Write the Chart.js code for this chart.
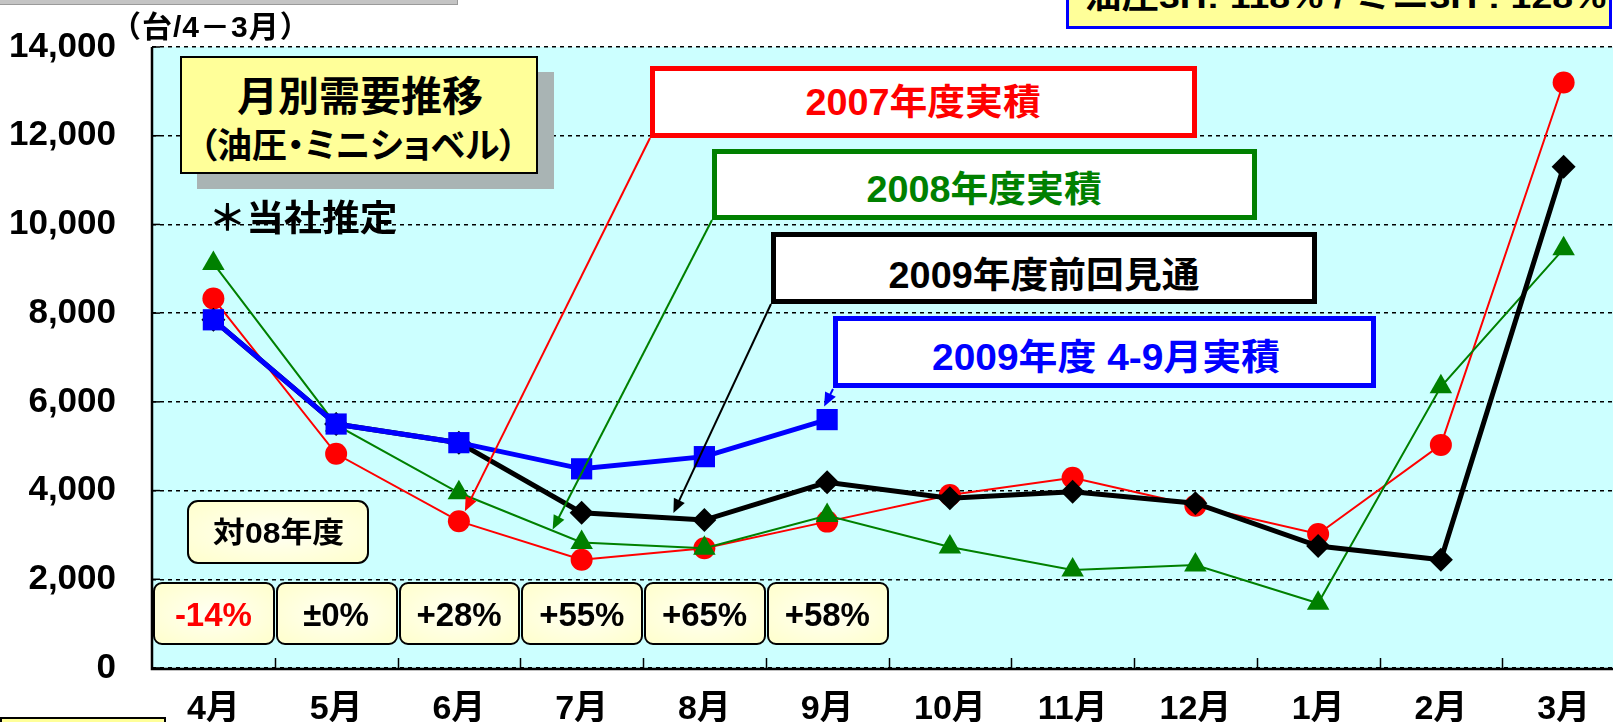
<!DOCTYPE html>
<html>
<head>
<meta charset="utf-8">
<script src="https://cdn.jsdelivr.net/npm/chart.js@4/dist/chart.umd.min.js"></script>
<style>
  html,body{margin:0;padding:0;background:#fff;overflow:hidden;width:1613px;height:722px;}
  #wrap{position:relative;width:1613px;height:722px;overflow:hidden;}
  canvas{position:absolute;left:0;top:0;}
  .ov{position:absolute;box-sizing:border-box;}
  .txt{position:absolute;white-space:nowrap;font-family:'Liberation Sans','Noto Sans CJK JP',sans-serif;font-weight:bold;transform-origin:center center;line-height:1;}
</style>
</head>
<body>
<div id="wrap">
  <canvas id="c" width="1640" height="722"></canvas>
</div>
<script>
// ---- data ----
const months = ['4月','5月','6月','7月','8月','9月','10月','11月','12月','1月','2月','3月'];
const actual2007 = [8330, 4830, 3310, 2440, 2700, 3300, 3900, 4290, 3660, 3020, 5030, 13200];
const actual2008 = [9120, 5480, 3950, 2830, 2700, 3440, 2730, 2210, 2320, 1460, 6340, 9450];
const forecast2009 = [7850, 5500, 5080, 3500, 3335, 4185, 3825, 3975, 3715, 2750, 2440, 11300];
const actual2009 = [7850, 5500, 5080, 4490, 4765, 5600, null, null, null, null, null, null];
const yTicks = [0, 2000, 4000, 6000, 8000, 10000, 12000, 14000];
const vs08Labels = ['-14%', '±0%', '+28%', '+55%', '+65%', '+58%'];
const seriesNames = ['2009年度 4-9月実積', '2009年度前回見通', '2008年度実積', '2007年度実積'];

const FONT = "'Liberation Sans','Noto Sans CJK JP',sans-serif";

function arrow(ctx, x1, y1, x2, y2, color, w) {
  const ang = Math.atan2(y2 - y1, x2 - x1);
  const L = 14, W = 6;
  ctx.save();
  ctx.strokeStyle = color; ctx.fillStyle = color; ctx.lineWidth = w;
  ctx.beginPath(); ctx.moveTo(x1, y1);
  ctx.lineTo(x2 - Math.cos(ang) * L * 0.8, y2 - Math.sin(ang) * L * 0.8); ctx.stroke();
  ctx.beginPath();
  ctx.moveTo(x2, y2);
  ctx.lineTo(x2 - Math.cos(ang) * L - Math.sin(ang) * W, y2 - Math.sin(ang) * L + Math.cos(ang) * W);
  ctx.lineTo(x2 - Math.cos(ang) * L + Math.sin(ang) * W, y2 - Math.sin(ang) * L - Math.cos(ang) * W);
  ctx.closePath(); ctx.fill();
  ctx.restore();
}

const decor = {
  id: 'decor',
  beforeDraw(chart) {
    const {ctx, chartArea: a} = chart;
    ctx.save();
    ctx.fillStyle = '#CCFFFF';
    ctx.fillRect(a.left, a.top, a.right - a.left, a.bottom - a.top);
    ctx.restore();
  },
  beforeDatasetsDraw(chart) {
    const {ctx, chartArea: a, scales: {x, y}} = chart;
    ctx.save();
    ctx.strokeStyle = '#000';
    ctx.lineWidth = 2.5;
    ctx.beginPath();
    ctx.moveTo(a.left, a.top); ctx.lineTo(a.left, a.bottom + 1);
    ctx.lineTo(a.right, a.bottom + 1);
    ctx.stroke();
    ctx.lineWidth = 1.5;
    for (let i = 1; i < months.length; i++) {
      const px = Math.round((x.getPixelForValue(i - 1) + x.getPixelForValue(i)) / 2) + 0.5;
      ctx.beginPath(); ctx.moveTo(px, a.bottom); ctx.lineTo(px, a.bottom - 10); ctx.stroke();
    }
    yTicks.forEach(v => {
      const py = y.getPixelForValue(v);
      ctx.beginPath(); ctx.moveTo(a.left, py); ctx.lineTo(a.left + 8, py); ctx.stroke();
    });
    ctx.restore();
  },
  afterDatasetsDraw(chart) {
    const {ctx, scales: {x, y}} = chart;
    arrow(ctx, 650, 138, x.getPixelForValue(2) + 6, y.getPixelForValue(actual2007[2]) - 10, '#FF0000', 2);
    arrow(ctx, 712, 220, x.getPixelForValue(3) - 29, y.getPixelForValue(actual2008[3]) - 13, '#008000', 2);
    arrow(ctx, 771, 304, x.getPixelForValue(4) - 31, y.getPixelForValue(forecast2009[4]) - 7, '#000000', 2);
    arrow(ctx, 833, 389, x.getPixelForValue(5) - 3, y.getPixelForValue(actual2009[5]) - 13, '#0000FF', 2);
  }
};

const chart = new Chart(document.getElementById('c'), {
  type: 'line',
  data: {
    labels: months,
    datasets: [
      {label: seriesNames[0], data: actual2009, borderColor: '#0000FF', backgroundColor: '#0000FF',
       borderWidth: 5, pointStyle: 'rect', pointRadius: 15, pointBorderWidth: 0, tension: 0},
      {label: seriesNames[1], data: forecast2009, borderColor: '#000000', backgroundColor: '#000000',
       borderWidth: 5, pointStyle: 'rectRot', pointRadius: 12, pointBorderWidth: 0, tension: 0},
      {label: seriesNames[2], data: actual2008, borderColor: '#008000', backgroundColor: '#008000',
       borderWidth: 2, pointStyle: 'triangle', pointRadius: 13, pointBorderWidth: 0, tension: 0},
      {label: seriesNames[3], data: actual2007, borderColor: '#FF0000', backgroundColor: '#FF0000',
       borderWidth: 2, pointStyle: 'circle', pointRadius: 11, pointBorderWidth: 0, tension: 0}
    ]
  },
  options: {
    responsive: false,
    animation: false,
    devicePixelRatio: 1,
    layout: {padding: {top: 47, right: 11, left: 0, bottom: 0}},
    plugins: {legend: {display: false}, tooltip: {enabled: false}},
    scales: {
      x: {
        type: 'category',
        offset: true,
        grid: {display: false, drawTicks: false},
        border: {display: false},
        ticks: {color: '#000', font: {family: FONT, size: 34, weight: 'bold'}, padding: 21, maxRotation: 0, autoSkip: false},
        afterFit(s) { s.height = 54; s.paddingLeft = 0; s.paddingRight = 0; }
      },
      y: {
        min: 0, max: 14000,
        afterBuildTicks(s) { s.ticks = yTicks.map(v => ({value: v})); },
        grid: {color: '#000', lineWidth: 1.5, drawTicks: false},
        border: {display: false, dash: [4, 4]},
        ticks: {color: '#000', font: {family: FONT, size: 35, weight: 'bold'}, padding: 36,
                callback: v => Number(v).toLocaleString('en-US')},
        afterFit(s) { s.width = 152; s.paddingTop = 0; s.paddingBottom = 0; }
      }
    }
  },
  plugins: [decor]
});

// ---- overlays (annotation boxes) ----
const wrap = document.getElementById('wrap');
function box(l, t, w, h, style) {
  const d = document.createElement('div');
  d.className = 'ov';
  Object.assign(d.style, {left: l + 'px', top: t + 'px', width: w + 'px', height: h + 'px'}, style || {});
  wrap.appendChild(d);
  return d;
}
function text(str, cx, cy, size, color, sx, extra) {
  const s = document.createElement('div');
  s.className = 'txt';
  s.textContent = str;
  Object.assign(s.style, {fontSize: size + 'px', color: color}, extra || {});
  wrap.appendChild(s);
  const w = s.offsetWidth, h = s.offsetHeight;
  s.style.left = (cx - w / 2) + 'px';
  s.style.top = (cy - h / 2) + 'px';
  s.style.transform = 'scaleX(' + (sx || 1) + ')';
  return s;
}

// top decorations (cut-off elements)
box(0, -2, 458, 7, {background: '#C4C4C4', borderBottom: '1px solid #9a9a9a', borderRight: '1px solid #9a9a9a'});
box(1066, -40, 546, 69, {background: '#FFFF99', border: '3px solid #0000FF'});
text('油圧3H: 118% / ミニ3H : 128%', 1345, -3, 32, '#000', 1.17);
box(0, 717, 166, 10, {background: '#FFFF99', border: '2px solid #000'});

// unit label
text('（台/4－3月）', 211, 27, 30, '#000', 1.0, {letterSpacing: '1px'});

// title box
box(197, 72, 357, 117, {background: '#A9B4B4'});
box(180, 56, 358, 118, {background: '#FFFF99', border: '2px solid #000'});
text('月別需要推移', 360, 97, 41, '#000', 1.0);
text('（油圧・ミニショベル）', 358, 145, 35, '#000', 1.0, {fontFeatureSettings: '"palt"'});
text('＊当社推定', 303, 219, 36, '#000', 1.05);

// legend boxes
box(650, 66, 547, 72, {background: '#fff', border: '5px solid #FF0000'});
text(seriesNames[3], 923, 103, 36, '#FF0000', 1.05);
box(712, 149, 545, 71, {background: '#fff', border: '5px solid #008000'});
text(seriesNames[2], 984, 190, 36, '#008000', 1.05);
box(771, 232, 546, 72, {background: '#fff', border: '5px solid #000'});
text(seriesNames[1], 1044, 276, 36, '#000', 1.05);
box(833, 316, 543, 72, {background: '#fff', border: '5px solid #0000FF'});
text(seriesNames[0], 1106, 358, 36, '#0000FF', 1.08);

// vs FY08 boxes
const pale = {background: 'radial-gradient(ellipse at center, #FFFFF4 0%, #FFFFCC 100%)', border: '2px solid #000', borderRadius: '11px'};
box(187, 500, 182, 64, pale);
text('対08年度', 278, 533, 29, '#000', 1.1);
const xs = chart.scales.x;
vs08Labels.forEach((lab, i) => {
  const c = xs.getPixelForValue(i);
  const half = (xs.getPixelForValue(1) - xs.getPixelForValue(0)) / 2;
  box(c - half + 1, 582, half * 2 - 1, 63, Object.assign({}, pale, {borderRadius: '9px'}));
  text(lab, c, 614, 33, i === 0 ? '#FF0000' : '#000', 1.0);
});
</script>
</body>
</html>
